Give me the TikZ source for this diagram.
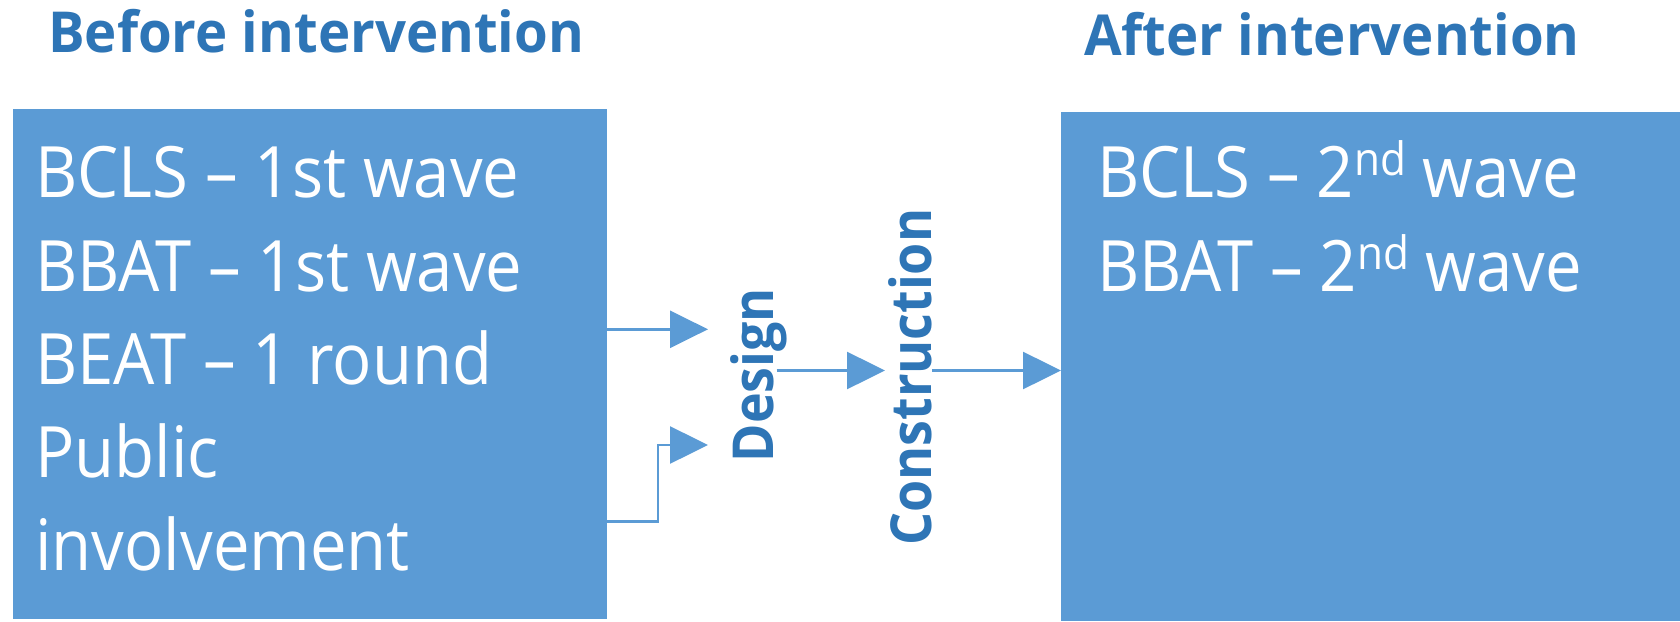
\documentclass[tikz,border=0pt]{standalone}
\usepackage{fontspec}
\setmainfont{Open Sans}[FakeStretch=0.92]
\newfontfamily\headfont{Open Sans}[FakeStretch=0.965]
\usetikzlibrary{arrows.meta}
\definecolor{boxblue}{HTML}{5B9BD5}
\definecolor{titleblue}{HTML}{2E75B6}
\newcommand{\supnd}{\raisebox{22pt}{\fontsize{46}{46}\selectfont nd}}
\begin{document}
\begin{tikzpicture}[x=1pt,y=-1pt,
  box/.style={fill=boxblue, draw=none, anchor=north west, inner sep=0pt, outer sep=0pt},
  boxtext/.style={anchor=base west, inner sep=0pt, text=white, font=\fontsize{70.9}{85}\selectfont},
  phase/.style={anchor=base west, inner sep=0pt, text=titleblue, font=\fontsize{56.5}{68}\selectfont\bfseries, rotate=90},
  title/.style={anchor=base west, inner sep=0pt, text=titleblue, font=\headfont\fontsize{56.5}{68}\selectfont\bfseries},
  conn/.style={draw=boxblue, line width=2.5pt, -{Triangle[length=38pt,width=37pt]}}
]
\useasboundingbox (0,0) rectangle (1680,621);
\fill[white] (0,0) rectangle (1680,621);
% boxes
\node[box, minimum width=593.7pt, minimum height=510pt] (lbox) at (13,109) {};
\node[box, minimum width=619pt, minimum height=509pt] (rbox) at (1061,112) {};
% titles
\node[title] (tb) at (48,52.7) {Before intervention};
\node[title] (ta) at (1084,55) {After intervention};
% left box text
\node[boxtext] (l1) at (35,197.3) {BCLS – 1st wave};
\node[boxtext] (l2) at (35,291.0) {BBAT – 1st wave};
\node[boxtext] (l3) at (35,384.3) {BEAT – 1 round};
\node[boxtext] (l4) at (35,477.5) {Public};
\node[boxtext] (l5) at (35,570.7) {involvement};
% right box text
\node[boxtext] (r1) at (1097,197.3) {BCLS – 2\supnd{} wave};
\node[boxtext] (r2) at (1097,291.0) {BBAT – 2\supnd{} wave};
% phases
\node[phase] (design) at (773.3,462.5) {Design};
\node[phase] (constr) at (931.7,546) {Construction};
% connectors
\coordinate (t1) at (708,329.3);
\coordinate (t2) at (708,445);
\coordinate (bend) at (658,521.7);
\coordinate (s3) at (776.7,370.5);
\coordinate (t3) at (885,370.5);
\draw[conn] (lbox.east |- t1) -- (t1);
\draw[conn] (lbox.east |- bend) -- (bend) |- (t2);
\draw[conn] (s3) -- (t3);
\draw[conn] (constr.south |- t3) -- (rbox.west |- t3);
\end{tikzpicture}
\end{document}
